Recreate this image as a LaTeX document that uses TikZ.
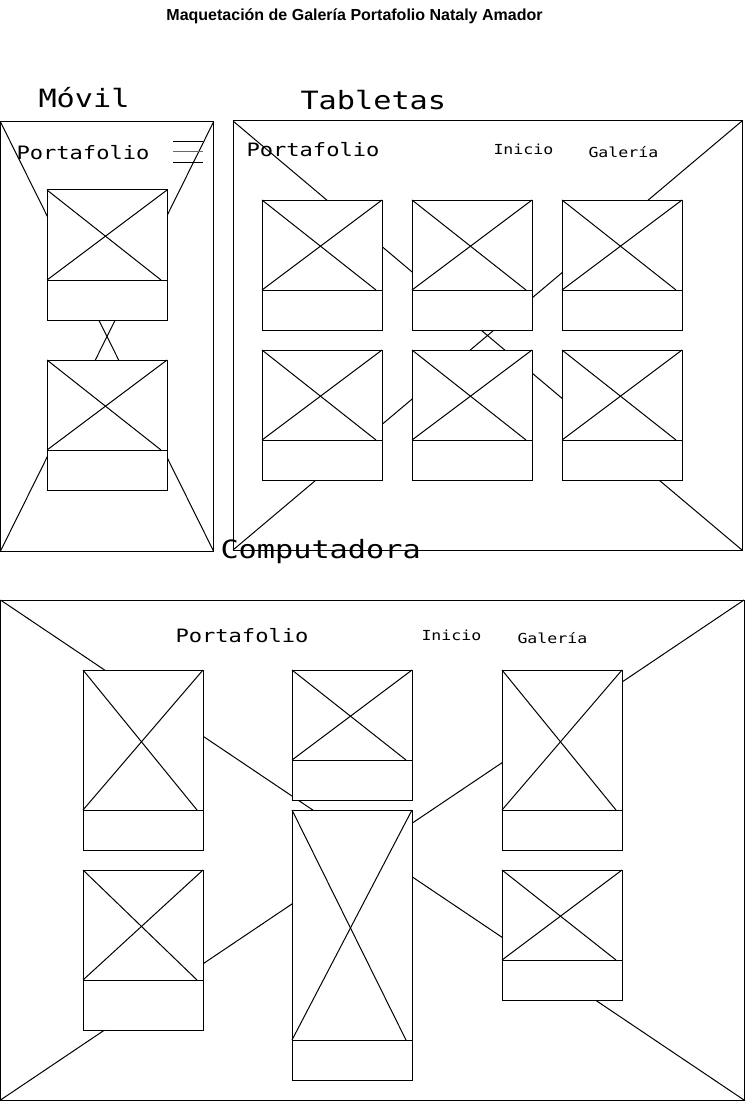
\documentclass[tikz,border=0pt]{standalone}
\usepackage{fontspec}
\setmainfont{Liberation Sans}
\newfontfamily\wirefont[FakeStretch=1.2]{DejaVu Sans Mono}
\usetikzlibrary{positioning}
\tikzset{
  frame/.style={draw, anchor=north west, inner sep=0pt, outer sep=0pt},
  imgbox/.style={draw, fill=white, anchor=north west, inner sep=0pt, outer sep=0pt},
  capbox/.style={draw, fill=white, inner sep=0pt, outer sep=0pt},
  heading/.style={anchor=base west, inner sep=0pt, font=\wirefont\fontsize{25.2}{30}\selectfont},
  brand/.style={anchor=base west, inner sep=0pt, font=\wirefont\fontsize{18.4}{22}\selectfont},
  navtext/.style={anchor=base west, inner sep=0pt, font=\wirefont\fontsize{13.8}{16}\selectfont}
}
% image placeholder with caption strip: name, x, y, width, image height, caption height
\newcommand{\galleryitem}[6]{
        \node[imgbox, minimum width=#4pt, minimum height=#5pt] (#1) at (#2,#3) {};
        \node[capbox, minimum width=#4pt, minimum height=#6pt, below=0pt of #1] (#1cap) {};
        \draw (#1.north west) -- ([xshift=-6pt]#1.south east);
        \draw (#1.south west) -- (#1.north east);
}

\begin{document}
\begin{tikzpicture}[x=1pt, y=-1pt, line width=1pt]

            \fill[white] (0,0) rectangle (746,1102);
            \useasboundingbox (0,0) rectangle (746,1102);

            \node[anchor=base, inner sep=0pt, font=\bfseries\fontsize{16}{19}\selectfont] (title) at (354.5,21) {Maquetación de Galería Portafolio Nataly Amador};

            % movil
            \node[heading] (movilhead) at (38,108) {Móvil};
            \node[frame, minimum width=213pt, minimum height=429pt] (movil) at (0.5,122) {};
            \draw (movil.north west) -- (movil.south east);
            \draw (movil.north east) -- (movil.south west);
            \node[brand] (movilbrand) at (16,160) {Portafolio};
            \draw (173,142) -- (203,142);
            \draw[black!60] (173,152) -- (203,152);
            \draw (173,163) -- (203,163);
            \galleryitem{mov1}{47}{190}{120}{90}{40}
            \galleryitem{mov2}{47}{360}{120}{90}{40}

            % tabletas
            \node[heading] (tabhead) at (300,110) {Tabletas};
            \node[frame, minimum width=509pt, minimum height=429pt] (tab) at (233,121) {};
            \draw (tab.north west) -- (tab.south east);
            \draw (tab.north east) -- (tab.south west);
            \node[brand] (tabbrand) at (246,157) {Portafolio};
            \node[navtext] (tabinicio) at (493,155) {Inicio};
            \node[navtext] (tabgaleria) at (588,158) {Galería};
            \foreach \col/\cx in {1/262,2/412,3/562}
              \foreach \row/\cy in {1/200,2/350}
                {\galleryitem{tab\col\row}{\cx}{\cy}{120}{90}{40}}

            % computadora
            \node[heading] (comphead) at (220,558) {Computadora};
            \node[frame, minimum width=743.5pt, minimum height=500pt] (comp) at (0.5,600) {};
            \draw (comp.north west) -- (comp.south east);
            \draw (comp.north east) -- (comp.south west);
            \node[brand] (compbrand) at (175,642) {Portafolio};
            \node[navtext] (compinicio) at (421,640) {Inicio};
            \node[navtext] (compgaleria) at (517,643) {Galería};
            \galleryitem{compl1}{83}{670}{120}{140}{40}
            \galleryitem{compl2}{83}{870}{120}{110}{50}
            \galleryitem{compm1}{292}{670}{120}{90}{40}
            \galleryitem{compm2}{292}{810}{120}{230}{40}
            \galleryitem{compr1}{502}{670}{120}{140}{40}
            \galleryitem{compr2}{502}{870}{120}{90}{40}

\end{tikzpicture}
\end{document}
